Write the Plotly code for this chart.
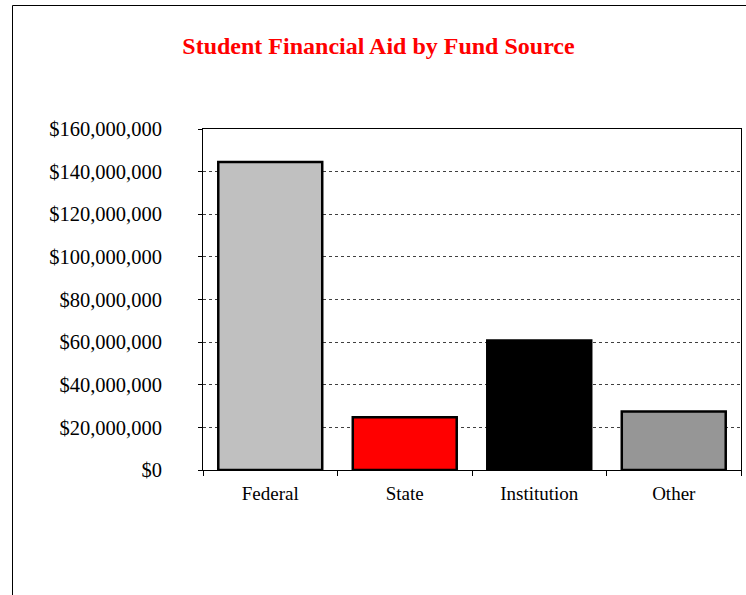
import plotly.graph_objects as go

categories = ["Federal", "State", "Institution", "Other"]
aid_amounts = [144500000, 24700000, 60800000, 27400000]
bar_colors = ["#C0C0C0", "#FF0000", "#000000", "#969696"]
y_tick_values = [0, 20000000, 40000000, 60000000, 80000000, 100000000, 120000000, 140000000, 160000000]
y_tick_labels = ["$" + format(v, ",") for v in y_tick_values]

W, H = 746, 595
L, R, T, B = 203, 5, 129, 125
pw = W - L - R
ph = H - T - B

fig = go.Figure(
    go.Bar(
        x=categories,
        y=aid_amounts,
        marker=dict(color=bar_colors, line=dict(color="black", width=2.5)),
        hoverinfo="x+y",
    )
)

font_family = "Liberation Serif, Times New Roman, serif"

fig.update_layout(
    width=W,
    height=H,
    margin=dict(l=L, r=R, t=T, b=B),
    paper_bgcolor="white",
    plot_bgcolor="white",
    bargap=0.227,
    showlegend=False,
    font=dict(family=font_family, size=19, color="black"),
    title=dict(
        text="<b>Student Financial Aid by Fund Source</b>",
        font=dict(family=font_family, size=24, color="#FF0000"),
        xref="container", yref="container",
        x=378.5 / W, xanchor="center",
        y=1 - 46 / H, yanchor="middle",
    ),
    shapes=[
        dict(
            type="rect", xref="paper", yref="paper",
            x0=(12.5 - L) / pw, x1=2.0,
            y0=-1.0, y1=(H - B - 5.5) / ph,
            line=dict(color="black", width=1),
            fillcolor="rgba(0,0,0,0)",
            layer="below",
        )
    ],
)

fig.update_yaxes(
    range=[0, 160000000],
    tickmode="array",
    tickvals=y_tick_values,
    ticktext=y_tick_labels,
    showgrid=True,
    gridcolor="#404040",
    griddash="dot",
    gridwidth=1,
    showline=True,
    linecolor="black",
    linewidth=1,
    mirror=True,
    ticks="outside",
    ticklen=4,
    tickcolor="black",
    ticklabelstandoff=32,
    tickfont=dict(family=font_family, size=20.5, color="black"),
    zeroline=False,
    fixedrange=True,
)

fig.update_xaxes(
    showline=True,
    linecolor="black",
    linewidth=1,
    mirror=True,
    ticks="outside",
    tickson="boundaries",
    ticklen=5,
    tickcolor="black",
    ticklabelstandoff=6,
    tickfont=dict(family=font_family, size=19, color="black"),
    showgrid=False,
    fixedrange=True,
)

# remove the browser's default 8px page margin so the figure sits at the page corner
fig.write_html(
    "out.html",
    config={"displayModeBar": False},
    post_script="document.body.style.margin='0px';",
)
